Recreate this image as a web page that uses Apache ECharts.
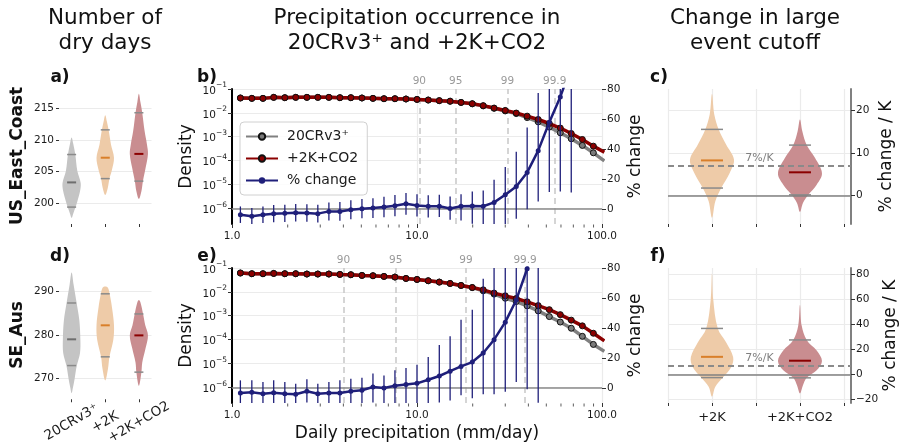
<!DOCTYPE html>
<html>
<head>
<meta charset="utf-8">
<script src="https://cdn.jsdelivr.net/npm/echarts@6/dist/echarts.min.js"></script>
<style>
  html, body { margin: 0; padding: 0; background: #fff; }
  #chart { width: 901px; height: 447px; }
</style>
</head>
<body>
<div id="chart"></div>
<script>
// ---- data ----
const dryCats = ['20CRv3⁺', '+2K', '+2K+CO2'];
const cutCats = ['+2K', '+2K+CO2'];

// violin outlines: [value, half width in category units]
const usDryObs = [[210.4,0],[209.5,0.045],[207.7,0.11],[205.1,0.17],[203.2,0.27],[201.9,0.25],[200.3,0.17],[199.3,0.11],[198.4,0.05],[197.7,0]];
const usDryWarm = [[213.9,0],[213.0,0.045],[211.6,0.10],[209.3,0.17],[207.2,0.26],[205.3,0.2],[203.9,0.125],[202.4,0.075],[201.3,0]];
const usDryCo2 = [[217.3,0],[216.0,0.045],[214.3,0.10],[211.4,0.17],[209.3,0.24],[207.8,0.27],[205.6,0.2],[203.5,0.12],[201.9,0.075],[200.7,0]];
const usDryStats = [[199.4,203.3,207.7],[203.9,207.2,211.6],[203.5,207.8,214.3]];

const seDryObs = [[294.3,0],[291.5,0.06],[287.3,0.15],[283.3,0.23],[279.0,0.26],[275.9,0.25],[273.0,0.155],[270.0,0.09],[268.0,0.04],[266.7,0]];
const seDryWarm = [[291.1,0],[290.8,0.08],[289.4,0.13],[286.3,0.2],[282.2,0.26],[278.9,0.24],[275.0,0.125],[272.2,0.08],[269.6,0]];
const seDryCo2 = [[288.0,0],[287.5,0.045],[284.8,0.125],[282.2,0.19],[279.9,0.27],[277.0,0.2],[273.7,0.1],[271.5,0.075],[268.4,0]];
const seDryStats = [[273.0,279.0,287.3],[275.0,282.2,289.4],[271.5,279.9,284.8]];

const usCutWarm = [[23.9,0],[19.1,0.026],[15.6,0.076],[12.0,0.162],[8.5,0.25],[5.3,0.2],[1.8,0.105],[-1.3,0.038],[-5.2,0]];
const usCutCo2 = [[17.9,0],[15.2,0.026],[11.9,0.076],[8.9,0.17],[5.3,0.25],[2.6,0.19],[0.2,0.095],[-1.7,0.034],[-3.8,0]];
const usCutStats = [[1.8,8.3,15.6],[0.2,5.5,11.9]];

const seCutWarm = [[80.8,0],[60.2,0.014],[36.9,0.066],[25.8,0.16],[14.0,0.24],[6.0,0.22],[-2.4,0.123],[-9.8,0.038],[-17.7,0]];
const seCutCo2 = [[55.7,0],[39.0,0.02],[27.7,0.076],[19.2,0.19],[10.8,0.25],[3.4,0.19],[-2.6,0.076],[-8.5,0.034],[-15.0,0]];
const seCutStats = [[-2.4,14.2,36.9],[-2.6,11.1,27.7]];

// precipitation bins (mm/day)
const binMm = [1.11,1.28,1.47,1.68,1.93,2.21,2.54,2.91,3.34,3.83,4.39,5.04,5.78,6.63,7.60,8.72,10.0,11.5,13.2,15.1,17.3,19.9,22.8,26.1,30.0,34.4,39.4,45.2,51.9,59.5,68.2,78.3,89.8,103];
const minorMm = [2,3,4,5,6,7,8,9,20,30,40,50,60,70,80,90];

const usObs = [4.19e-2,4.04e-2,4.04e-2,4.45e-2,4.31e-2,4.45e-2,4.45e-2,4.45e-2,4.45e-2,4.31e-2,4.31e-2,4.19e-2,4.04e-2,3.91e-2,3.91e-2,3.80e-2,3.66e-2,3.44e-2,3.24e-2,3.05e-2,2.72e-2,2.38e-2,1.95e-2,1.55e-2,1.20e-2,9.33e-3,6.31e-3,4.17e-3,2.51e-3,1.45e-3,8.13e-4,4.27e-4,2.09e-4,9.55e-5];
const usFut = [4.19e-2,4.04e-2,4.04e-2,4.45e-2,4.31e-2,4.45e-2,4.45e-2,4.45e-2,4.45e-2,4.31e-2,4.31e-2,4.19e-2,4.04e-2,3.91e-2,3.91e-2,3.80e-2,3.66e-2,3.44e-2,3.24e-2,3.09e-2,2.74e-2,2.41e-2,2.00e-2,1.58e-2,1.26e-2,9.77e-3,7.24e-3,5.25e-3,3.55e-3,2.29e-3,1.35e-3,7.59e-4,3.98e-4,2.24e-4];
const usPct = [-3.8,-4.9,-3.8,-3.1,-2.9,-2.5,-2.7,-3.1,-1.6,-1.6,-0.5,0.2,0.6,1.3,2.2,3.5,2.4,1.8,1.8,0.4,1.8,2.0,1.8,4.4,9.5,15.0,24.4,38.9,57.8,74.7,95,null,null,null];
const usLo = [-9.3,-10.4,-9.3,-8.8,-8.6,-8.3,-8.5,-9.0,-7.6,-7.8,-6.8,-6.2,-6.0,-5.5,-4.9,-3.8,-5.0,-5.6,-5.3,-7.1,-7.6,-9.8,-10.5,-12,-11,-6.5,-0.2,5.0,11.3,11.7,11.0,null,null,null];
const usHi = [1.7,0.6,1.7,2.6,2.8,3.3,3.1,2.8,4.4,4.6,5.8,6.6,7.2,8.1,9.3,10.7,9.8,9.2,9.5,8.4,9.9,11.7,12.4,19.5,28.0,38.2,54.4,77.3,110,130,150,null,null,null];

const seObs = [6.15e-2,5.75e-2,5.75e-2,5.92e-2,5.75e-2,5.75e-2,5.58e-2,5.58e-2,5.58e-2,5.37e-2,5.21e-2,4.88e-2,4.73e-2,4.43e-2,4.17e-2,3.64e-2,3.30e-2,2.91e-2,2.56e-2,2.24e-2,1.85e-2,1.51e-2,1.10e-2,8.00e-3,5.37e-3,3.89e-3,2.57e-3,1.58e-3,9.12e-4,5.37e-4,2.95e-4,1.35e-4,6.17e-5,3.16e-5];
const seFut = [6.15e-2,5.75e-2,5.75e-2,5.92e-2,5.75e-2,5.75e-2,5.58e-2,5.58e-2,5.58e-2,5.37e-2,5.21e-2,4.88e-2,4.73e-2,4.43e-2,4.17e-2,3.64e-2,3.30e-2,2.91e-2,2.56e-2,2.24e-2,1.85e-2,1.51e-2,1.21e-2,8.81e-3,6.76e-3,5.25e-3,3.80e-3,2.63e-3,1.78e-3,1.10e-3,6.46e-4,3.72e-4,1.82e-4,8.71e-5];
const sePct = [-3.3,-2.9,-3.8,-3.1,-3.8,-4.2,-2.2,-3.8,-3.3,-3.3,-2.2,-1.5,0.7,0.0,1.5,2.4,3.1,5.5,8.0,11.2,14.4,17.3,23.3,32.2,43.9,58.7,79.5,110,null,null,null,null,null,null];
const seLo = [-10.5,-11,-11,-10.5,-11,-11.5,-9.7,-11,-10.5,-10.5,-10,-10,-9.7,-10,-10.5,-10.5,-10,-10,-9.7,-8.4,-4.9,-6.9,-4.2,-4.2,-2.5,4.0,-0.9,-9.9,null,null,null,null,null,null];
const seHi = [5.1,5.1,4.0,5.1,4.0,2.9,5.8,2.9,4.0,5.1,6.2,6.9,9.6,8.4,11.8,13.3,15.5,20.6,28.6,34.5,45.5,52.2,72.8,90,110,130,150,170,null,null,null,null,null,null];

const usPctl = [['90', 10.3], ['95', 16.2], ['99', 30.8], ['99.9', 55.5]];
const sePctl = [['90', 4.0], ['95', 7.67], ['99', 18.4], ['99.9', 38.4]];

// ---- styling ----
const FONT = 'DejaVu Sans';
const NAVY = '#1f1f7a';
const dryFill = ['#c4c4c4', '#eecba8', '#c98d90'];
const dryMed = ['#6e6e6e', '#d97f2a', '#8b0000'];
const cutFill = ['#eecba8', '#c98d90'];
const cutMed = ['#d97f2a', '#8b0000'];

const chart = echarts.init(document.getElementById('chart'));

const tickText = { fontFamily: FONT, fontSize: 10.5, color: '#1a1a1a' };
const tickLine = { lineStyle: { color: '#333', width: 1 } };
const gridLine = { show: true, lineStyle: { color: '#ebebeb', width: 1.2 } };
const nameText = { fontFamily: FONT, fontSize: 17, color: '#111' };
const noLine = { show: false, onZero: false };

const rows = [89, 268];
const H = 135;

const toLog = v => Math.log10(v);
const pairs = (xs, ys, f) => xs.map((x, i) => [x, ys[i]])
  .filter(p => p[1] != null)
  .map(p => [p[0], f ? f(p[1]) : p[1]]);
const bars = (xs, lo, hi) => xs.map((x, i) => [x, lo[i], hi[i]]).filter(p => p[1] != null);

function violinSeries(xi, yi, profiles, fills, stats, medCols, half, extra) {
  const outline = {
    type: 'custom', xAxisIndex: xi, yAxisIndex: yi, z: 2,
    data: profiles.map((p, i) => [i, stats[i][1]]),
    encode: { x: 0, y: 1 },
    renderItem: (params, api) => {
      const i = params.dataIndex;
      const prof = profiles[i];
      const right = prof.map(p => api.coord([i + p[1], p[0]]));
      const left = prof.slice(1, -1).reverse().map(p => api.coord([i - p[1], p[0]]));
      return {
        type: 'polygon',
        shape: { points: right.concat(left), smooth: 0.35 },
        style: { fill: fills[i], stroke: null }
      };
    }
  };
  if (extra) Object.assign(outline, extra);
  const lines = {
    type: 'custom', xAxisIndex: xi, yAxisIndex: yi, z: 3,
    data: stats.map((s, i) => [i, s[0], s[1], s[2]]),
    encode: { x: 0, y: [1, 2, 3] },
    renderItem: (params, api) => {
      const i = params.dataIndex;
      const seg = (v, color, w) => {
        const a = api.coord([i - half, v]);
        const b = api.coord([i + half, v]);
        return { type: 'line', shape: { x1: a[0], y1: a[1], x2: b[0], y2: b[1] },
                 style: { stroke: color, lineWidth: w } };
      };
      return { type: 'group', children: [
        seg(api.value(1), '#8a8a8a', 1.5),
        seg(api.value(3), '#8a8a8a', 1.5),
        seg(api.value(2), medCols[i], 2)
      ] };
    }
  };
  return [outline, lines];
}

function precipSeries(xi, yl, yr, obs, fut, pct, lo, hi, pctl) {
  return [
    {
      name: '20CRv3⁺', type: 'line', xAxisIndex: xi, yAxisIndex: yl, z: 3,
      data: pairs(binMm, obs, toLog),
      symbol: 'circle', symbolSize: 6,
      lineStyle: { color: '#808080', width: 3.5 },
      itemStyle: { color: '#7a7a7a', borderColor: '#111', borderWidth: 1 },
      markLine: {
        silent: true, symbol: 'none', z: 1,
        lineStyle: { color: '#c8c8c8', type: [6, 4], width: 1.5 },
        label: { show: true, position: 'end', formatter: '{b}', color: '#999',
                 fontFamily: FONT, fontSize: 10.5, distance: 2 },
        data: pctl.map(p => ({ name: p[0], xAxis: p[1] }))
      }
    },
    {
      name: '+2K+CO2', type: 'line', xAxisIndex: xi, yAxisIndex: yl, z: 4,
      data: pairs(binMm, fut, toLog),
      symbol: 'circle', symbolSize: 6,
      lineStyle: { color: '#8b0000', width: 3.5 },
      itemStyle: { color: '#8b0000', borderColor: '#111', borderWidth: 1 }
    },
    {
      name: '% change', type: 'line', xAxisIndex: xi, yAxisIndex: yr, z: 6,
      data: pairs(binMm, pct),
      symbol: 'circle', symbolSize: 5,
      lineStyle: { color: NAVY, width: 2.5 },
      itemStyle: { color: NAVY },
      markLine: {
        silent: true, symbol: 'none', z: 2,
        lineStyle: { color: '#8a8a8a', type: 'solid', width: 1.5 },
        label: { show: false },
        data: [{ yAxis: 0 }]
      }
    },
    {
      type: 'custom', xAxisIndex: xi, yAxisIndex: yr, z: 5, clip: true,
      data: bars(binMm, lo, hi),
      encode: { x: 0, y: [1, 2] },
      renderItem: (params, api) => {
        const a = api.coord([api.value(0), api.value(1)]);
        const b = api.coord([api.value(0), api.value(2)]);
        return { type: 'line', shape: { x1: a[0], y1: a[1], x2: b[0], y2: b[1] },
                 style: { stroke: NAVY, lineWidth: 1.3 } };
      }
    },
    {
      type: 'scatter', xAxisIndex: xi, yAxisIndex: yr, clip: false, silent: true,
      data: minorMm.map(v => [v, -10]),
      symbol: 'rect', symbolSize: [1, 3], symbolOffset: [0, 2],
      itemStyle: { color: '#333' }
    }
  ];
}

const cutMarks = {
  silent: true, symbol: 'none',
  data: [
    { yAxis: 0, lineStyle: { color: '#808080', type: 'solid', width: 1.5 }, label: { show: false } },
    { yAxis: 7, lineStyle: { color: '#8a8a8a', type: [6, 4], width: 1.8 },
      label: { show: true, formatter: '7%/K', position: 'insideMiddleTop', distance: 2,
               color: '#7f7f7f', fontFamily: FONT, fontSize: 11 } }
  ]
};

function dryX(grid, labels) {
  return {
    gridIndex: grid, type: 'value', min: -0.375, max: 2.375,
    axisLine: noLine,
    axisTick: { show: true, length: 3, customValues: [0, 1, 2], ...tickLine },
    axisLabel: labels ? {
      customValues: [0, 1, 2], formatter: v => dryCats[Math.round(v)],
      rotate: 30, align: 'center', verticalAlign: 'middle', margin: 23,
      fontFamily: FONT, fontSize: 13.5, color: '#1a1a1a'
    } : { show: false },
    splitLine: { show: false }
  };
}
function precipX(grid, named) {
  const ax = {
    gridIndex: grid, type: 'log', logBase: 10, min: 1, max: 100,
    axisLine: noLine,
    axisTick: { show: true, length: 4, ...tickLine },
    axisLabel: { ...tickText, margin: 7, formatter: v => Number(v).toFixed(1) },
    splitLine: gridLine
  };
  if (named) Object.assign(ax, { name: 'Daily precipitation (mm/day)', nameLocation: 'middle',
                                  nameGap: 22, nameTextStyle: nameText });
  return ax;
}
function cutX(grid, labels) {
  return {
    gridIndex: grid, type: 'value', min: -0.5, max: 1.58,
    axisLine: noLine,
    axisTick: { show: true, length: 3, customValues: [-0.5, 0, 0.5, 1, 1.5], ...tickLine },
    axisLabel: labels ? {
      customValues: [0, 1], formatter: v => cutCats[Math.round(v)],
      margin: 8, fontFamily: FONT, fontSize: 13, color: '#1a1a1a'
    } : { show: false },
    splitLine: gridLine
  };
}
function dryY(grid, min, max, ticks) {
  return {
    gridIndex: grid, type: 'value', min, max,
    axisLine: noLine,
    axisTick: { show: true, length: 3, customValues: ticks, ...tickLine },
    axisLabel: { customValues: ticks, ...tickText, margin: 5 },
    splitLine: gridLine
  };
}
const densTicks = [-6, -5, -4, -3, -2, -1];
function densY(grid) {
  return {
    gridIndex: grid, type: 'value', min: -6.67, max: -1,
    axisLine: { show: true, onZero: false, lineStyle: { color: '#000', width: 2 } },
    axisTick: { show: true, length: 4, customValues: densTicks, ...tickLine },
    axisLabel: {
      customValues: densTicks, margin: 5,
      formatter: v => '{b|10}{s|−' + Math.round(-v) + '}',
      rich: {
        b: { fontFamily: FONT, fontSize: 10.5, color: '#1a1a1a', verticalAlign: 'bottom', lineHeight: 15 },
        s: { fontFamily: FONT, fontSize: 7.5, color: '#1a1a1a', verticalAlign: 'top', lineHeight: 15 }
      }
    },
    splitLine: gridLine,
    name: 'Density', nameLocation: 'middle', nameGap: 37, nameRotate: 90, nameTextStyle: nameText
  };
}
const pctTicks = [0, 20, 40, 60, 80];
function pctY(grid) {
  return {
    gridIndex: grid, type: 'value', position: 'right', min: -10, max: 80,
    axisLine: noLine,
    axisTick: { show: true, length: 4, customValues: pctTicks, ...tickLine },
    axisLabel: { customValues: pctTicks, ...tickText, margin: 5 },
    splitLine: { show: false },
    name: '% change', nameLocation: 'middle', nameGap: 25, nameRotate: 90, nameTextStyle: nameText
  };
}
function cutY(grid, min, max, ticks) {
  return {
    gridIndex: grid, type: 'value', position: 'right', min, max,
    axisLine: { show: true, onZero: false, lineStyle: { color: '#808080', width: 2 } },
    axisTick: { show: true, length: 4, customValues: ticks, ...tickLine },
    axisLabel: { customValues: ticks, ...tickText, margin: 5,
                 formatter: v => (v < 0 ? '−' + (-v) : String(v)) },
    splitLine: gridLine,
    name: '% change / K', nameLocation: 'middle', nameGap: 27, nameRotate: 90, nameTextStyle: nameText
  };
}

const txt = (x, y, text, size, weight, rot) => ({
  type: 'text', x, y, rotation: rot || 0,
  style: { text, fill: '#111', font: (weight || 'normal') + ' ' + size + 'px "DejaVu Sans"',
           fontFamily: FONT, fontSize: size, fontWeight: weight || 'normal',
           align: 'center', textAlign: 'center', verticalAlign: 'middle', textVerticalAlign: 'middle',
           lineHeight: 25 }
});

const option = {
  animation: false,
  backgroundColor: '#fff',
  textStyle: { fontFamily: FONT },
  grid: [
    { left: 59, top: rows[0], width: 92.5, height: H },
    { left: 232, top: rows[0], width: 370, height: H },
    { left: 668, top: rows[0], width: 183, height: H },
    { left: 59, top: rows[1], width: 92.5, height: H },
    { left: 232, top: rows[1], width: 370, height: H },
    { left: 668, top: rows[1], width: 183, height: H }
  ],
  xAxis: [dryX(0, false), precipX(1, false), cutX(2, false), dryX(3, true), precipX(4, true), cutX(5, true)],
  yAxis: [
    dryY(0, 196.73, 218.05, [200, 205, 210, 215]),
    densY(1), pctY(1),
    cutY(2, -6.66, 25.1, [0, 10, 20]),
    dryY(3, 265.3, 295.3, [270, 280, 290]),
    densY(4), pctY(4),
    cutY(5, -22.7, 85.2, [-20, 0, 20, 40, 60, 80])
  ],
  legend: {
    data: ['20CRv3⁺', '+2K+CO2', '% change'],
    orient: 'vertical', left: 240, top: 122,
    itemWidth: 32, itemHeight: 8, itemGap: 5,
    padding: [6, 9, 6, 5],
    backgroundColor: 'rgba(255,255,255,0.85)',
    borderColor: '#d0d0d0', borderWidth: 1, borderRadius: 4,
    textStyle: { fontFamily: FONT, fontSize: 14, color: '#1a1a1a', padding: [0, 0, 0, 4], lineHeight: 17 },
    selectedMode: false
  },
  series: [
    ...violinSeries(0, 0, [usDryObs, usDryWarm, usDryCo2], dryFill, usDryStats, dryMed, 0.134),
    ...violinSeries(3, 4, [seDryObs, seDryWarm, seDryCo2], dryFill, seDryStats, dryMed, 0.134),
    ...violinSeries(2, 3, [usCutWarm, usCutCo2], cutFill, usCutStats, cutMed, 0.125, { markLine: cutMarks }),
    ...violinSeries(5, 7, [seCutWarm, seCutCo2], cutFill, seCutStats, cutMed, 0.125, { markLine: cutMarks }),
    ...precipSeries(1, 1, 2, usObs, usFut, usPct, usLo, usHi, usPctl),
    ...precipSeries(4, 5, 6, seObs, seFut, sePct, seLo, seHi, sePctl)
  ],
  graphic: [
    txt(105, 30.5, 'Number of\ndry days', 21.5),
    txt(417, 30.5, 'Precipitation occurrence in\n20CRv3⁺ and +2K+CO2', 21.5),
    txt(755, 30.5, 'Change in large\nevent cutoff', 21.5),
    txt(18, 156, 'US_East_Coast', 17, 'bold', Math.PI / 2),
    txt(18, 335, 'SE_Aus', 17, 'bold', Math.PI / 2),
    txt(60, 78, 'a)', 17, 'bold'),
    txt(207, 78, 'b)', 17, 'bold'),
    txt(659, 78, 'c)', 17, 'bold'),
    txt(60, 257, 'd)', 17, 'bold'),
    txt(207, 257, 'e)', 17, 'bold'),
    txt(658, 257, 'f)', 17, 'bold')
  ]
};

chart.setOption(option);
</script>
</body>
</html>
